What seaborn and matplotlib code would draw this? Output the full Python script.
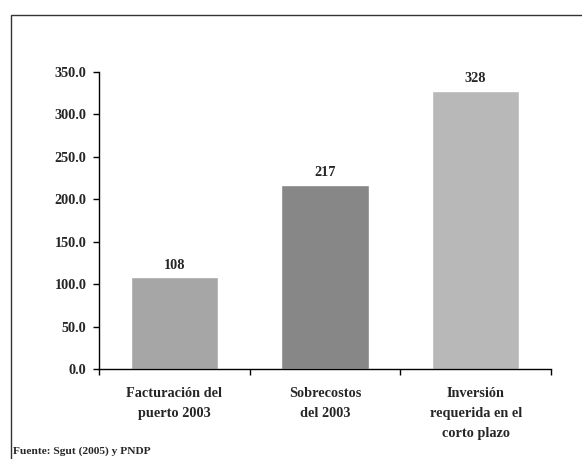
import numpy as np
import pandas as pd
import matplotlib
matplotlib.use("Agg")
import matplotlib.pyplot as plt
import seaborn as sns
from matplotlib.patches import Rectangle

categorias = ["Facturación del\npuerto 2003", "Sobrecostos\ndel 2003", "Inversión\nrequerida en el\ncorto plazo"]
valores = [108, 217, 328]
etiquetas = ["108", "217", "328"]
colores = ["#a6a6a6", "#878787", "#b8b8b8"]
yticks = [0, 50, 100, 150, 200, 250, 300, 350]

sns.set_style("white")
plt.rcParams["font.family"] = ["Liberation Serif", "DejaVu Serif"]
plt.rcParams["font.weight"] = "bold"

W, H = 582, 459
fig = plt.figure(figsize=(W / 100, H / 100), dpi=100)
# ejes: izquierda 99px, derecha 551px, arriba 72px, abajo 369px
ax = fig.add_axes([99 / W, 1 - 369 / H, (551 - 99) / W, (369 - 72) / H])

df = pd.DataFrame({"cat": categorias, "val": valores})
sns.barplot(data=df, x="cat", y="val", hue="cat", palette=colores, width=0.58,
            legend=False, ax=ax, saturation=1)

for i, v in enumerate(valores):
    ax.annotate(etiquetas[i], (i, v), xytext=(0, 4), textcoords="offset points",
                ha="center", va="bottom", fontsize=10.3, fontweight="bold")

ax.set_ylim(0, 350)
ax.set_xlim(-0.5, 2.5)
ax.set_yticks(yticks)
ax.set_yticklabels([f"{t:.1f}" for t in yticks], fontsize=10.3, fontweight="bold")
ax.set_xticks([-0.5, 0.5, 1.5, 2.5])
ax.set_xticklabels([])
ax.set_xticks([0, 1, 2], minor=True)
ax.set_xticklabels(categorias, minor=True, fontsize=10.3, fontweight="bold", linespacing=1.7)
ax.tick_params(axis="x", which="minor", length=0, pad=13, bottom=True)
ax.tick_params(axis="both", which="major", direction="out", length=4.5, width=1, color="black",
               bottom=True, left=True)
ax.tick_params(axis="y", pad=4.5)
ax.set_xlabel("")
ax.set_ylabel("")
for s in ["top", "right"]:
    ax.spines[s].set_visible(False)
for s in ["left", "bottom"]:
    ax.spines[s].set_color("black")
    ax.spines[s].set_linewidth(1)

fig.patches.append(Rectangle((11 / W, -0.1), 1.1, 1 - 15 / H + 0.1, transform=fig.transFigure,
                             fill=False, edgecolor="#333333", linewidth=1))
fig.text(13 / W, 1 - 451 / H, "Fuente: Sgut (2005) y PNDP", fontsize=8.2, fontweight="bold",
         va="center", ha="left")

fig.savefig("out.png", dpi=100)
